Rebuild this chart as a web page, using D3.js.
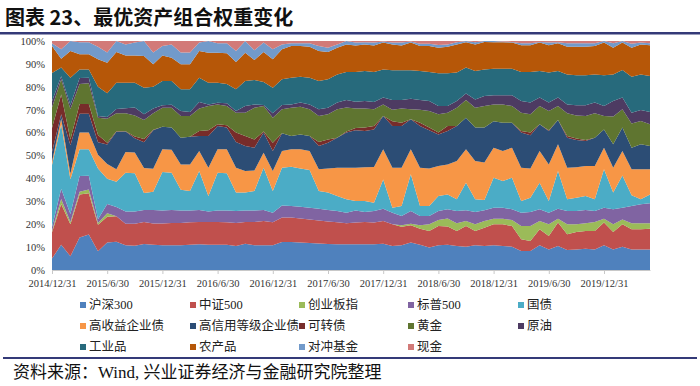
<!DOCTYPE html>
<html>
<head>
<meta charset="utf-8">
<script src="https://d3js.org/d3.v7.min.js"></script>
<style>
    body { margin: 0; background: #fff; }
    svg { display: block; }
</style>
</head>
<body>
<svg id="chart" width="700" height="386"></svg>
<script>

// month-end dates, 2014/12/31 .. 2020/5/31 (66 points)
const months = d3.timeMonth.range(new Date(2014, 11, 1), new Date(2020, 5, 1))
const fmt = d => d3.timeFormat("%Y/%-m/%-d")(d3.timeDay.offset(d3.timeMonth.offset(d, 1), -1))
const dates = months.map(fmt)

const keys = ["沪深300", "中证500", "创业板指", "标普500", "国债", "高收益企业债", "高信用等级企业债",
              "可转债", "黄金", "原油", "工业品", "农产品", "对冲基金", "现金"]
const colors = ["#4F81BD", "#C0504D", "#9BBB59", "#8064A2", "#4BACC6", "#F79646", "#2C4D75",
                "#772C2A", "#5F7530", "#4D3B62", "#276A7C", "#B65708", "#729ACA", "#D27A78"]

// weights (%)
const hs300 = [5, 11, 6, 14.2, 15.5, 8.2, 12, 12.3, 10.8, 10.6, 11.3, 11, 10.8, 10.8, 10.8, 11, 11.2, 11, 11, 11,
    10.5, 11.5, 10.8, 10.8, 10.8, 12.2, 12.2, 12, 11.8, 11.6, 11.4, 11.2, 11.2, 11.2, 11.2, 11.2, 11.5, 10.5, 10.8, 12,
    11, 9.8, 10.8, 11, 10.5, 10.2, 10.8, 10.5, 10.8, 10.5, 10.2, 8.3, 8.3, 10.8, 9, 10.5, 8.7, 9, 9.3, 9,
    10.8, 9, 10.2, 9, 9, 9]
const zz500 = [11.5, 17.8, 14, 18.8, 18, 11.6, 11.2, 11.2, 9.4, 9.6, 9.7, 9.3, 9.5, 9.7, 9.7, 9.8, 9.8, 10, 10, 9.8,
    10, 9.5, 10.2, 10.6, 10, 10.7, 10.7, 10.5, 10.2, 10, 9.8, 9.6, 9.2, 9.5, 9.8, 9.5, 9.9, 9.5, 8.1, 7.5,
    7, 7.2, 8.4, 8, 6.5, 9, 6.2, 8, 9.2, 9.5, 9, 5.1, 4.4, 7, 5.8, 10.2, 6.9, 7.6, 7.7, 8,
    9.9, 7.6, 9.8, 8.8, 8.8, 9]
const cyb = [0.5, 2.2, 1, 1.2, 1.7, 0.7, 1.6, 0, 0, 0, 0, 0, 0, 0, 0, 0, 0, 0, 0, 0,
    0, 0, 0, 0, 0, 0, 0, 0, 0, 0, 0, 0, 0, 0, 0, 0, 0, 0, 0.6, 0.7,
    1.5, 3, 2.6, 3.5, 3.4, 2.2, 3, 2.9, 2.4, 2.4, 2.6, 5.8, 6.5, 3.6, 5.2, 1.7, 4.4, 3.4, 3.4, 4,
    1.7, 3.4, 2, 2.6, 2.6, 2.4]
const sp500 = [1.8, 4.5, 3.5, 6.8, 6, 1.7, 4, 4, 5.4, 5.4, 5.2, 5.9, 5.7, 5.7, 5.5, 5.2, 5.2, 4.5, 5, 5.2,
    5.3, 5, 5, 4.8, 4.2, 5.3, 5.1, 5.1, 5.2, 5.2, 5, 5, 4.6, 5.3, 4.3, 5.1, 5.4, 5, 4.1, 5.6,
    4.1, 3.6, 4, 4, 5.4, 4.7, 5.3, 4.7, 4.8, 4.8, 4.7, 5.8, 6.1, 5.1, 5, 4.4, 5.8, 5.8, 5.8, 4.8,
    4.8, 6.5, 5.2, 7.5, 8.3, 8.7]
const gz = [27, 28, 15.1, 11.7, 11.5, 22.1, 11, 11, 16.9, 16.7, 7.4, 8, 16.8, 16.3, 9, 8.5, 17, 6.8, 16.5, 16.2,
    8, 7.8, 8.5, 18.5, 9.5, 16.5, 17.1, 16.7, 16.5, 7.7, 7.6, 6.5, 5.9, 4.1, 4.8, 3.6, 12.7, 2.2, 4.3, 16,
    4.3, 4.3, 6.5, 6.5, 5.1, 12, 5.6, 4.5, 13.1, 11.7, 13.8, 5.1, 6.3, 11.6, 5.1, 16.4, 5.1, 5.8, 6.1, 5.1,
    16.8, 7.3, 14.1, 4.7, 2.2, 3.9]
const gsy = [1.5, 2.7, 2.4, 7.3, 7.3, 6, 6.5, 5.5, 9, 9, 10.9, 10, 9.9, 10, 11.1, 11.6, 8.8, 12.4, 10.2, 10.5,
    10.9, 9.4, 9, 6.5, 8.7, 7.3, 7.6, 8.4, 8.3, 9.5, 10.5, 12.4, 13.8, 14.6, 14.8, 15.6, 13.2, 17.5, 16.8, 10.9,
    16.8, 16.4, 13.1, 13.1, 16.7, 14.6, 16.7, 16.3, 13.1, 13.1, 13.1, 14.6, 12.7, 13.9, 16, 11.7, 13.8, 13.3, 13.1, 14.5,
    9.4, 10.9, 10.7, 11.4, 13.1, 11]
const gxy = [4.2, 1.8, 12.5, 8.2, 8.2, 5.5, 8.5, 16.4, 9, 6.2, 11.3, 16.8, 9.9, 9.7, 11.7, 12.1, 6.5, 13.8, 10.2, 9.5,
    11.2, 10.9, 9.9, 8.8, 8.8, 7.7, 5.8, 6.5, 6.5, 10.1, 11.3, 13.1, 15.3, 16.3, 15.8, 16.4, 14.5, 18.2, 18.2, 13.1,
    18.2, 16.7, 13.8, 14.6, 15.3, 13.8, 14.6, 15.3, 11.6, 12.3, 10.9, 15.3, 14.5, 11.6, 14.6, 10.6, 13.1, 11.9, 10.9, 12.4,
    8, 10.2, 10.2, 9.4, 10.9, 10.1]
const kzz = [10.5, 8.6, 2.5, 4.3, 4.3, 3.2, 0.8, 0.2, 0.1, 0.8, 1.4, 0.2, 0, 0, 0, 0, 2.2, 2.5, 0.7, 1,
    4.1, 4.4, 3.6, 0.5, 3.6, 0, 0, 0, 0, 1.8, 1.4, 0, 0.5, 1, 1.5, 1.5, 0, 2.1, 1.4, 0,
    1.4, 1.2, 0.8, 2.2, 0, 0, 0, 0, 0, 0, 0, 0.7, 1.2, 0, 0.3, 0, 0.7, 0.6, 0.5, 0,
    0, 0, 0, 0, 0, 0]
const hj = [9, 6.7, 13.3, 8.7, 9, 7.5, 10.4, 7.9, 7.9, 9.2, 8.3, 7.3, 8.3, 8.7, 9.4, 9, 9.8, 10.6, 8.7, 8.4,
    8.7, 10.2, 13.9, 11.1, 10.9, 10.5, 12.4, 12.1, 11.7, 11.3, 11, 12.4, 10.5, 8.5, 8.3, 7.3, 5.1, 5, 6.2, 4.4,
    5.7, 7.2, 8, 5.8, 8, 7.7, 8.7, 9.4, 7.3, 8, 7.3, 8, 8, 8, 8.4, 6.1, 9.9, 10.1, 10.4, 10.6,
    5.8, 12.1, 8, 10.6, 10.2, 9.5]
const yy = [2.7, 1.3, 1.7, 2.6, 2.5, 0.7, 0.8, 1.8, 2.1, 3.5, 2.5, 2, 1, 1.3, 2.2, 1.8, 2.9, 0.7, 0.7, 1.2,
    0.7, 2.9, 1.4, 0.4, 1.9, 1.8, 1.4, 1.8, 2.1, 3, 2.9, 2.9, 3.2, 3, 3.3, 3.2, 3, 4.2, 3.7, 4.6,
    4.2, 4.4, 3.6, 2.9, 2.9, 2.9, 3.6, 4.4, 4, 4, 4.7, 5.1, 5.1, 3.7, 3.7, 3.7, 3.9, 4.4, 4.7, 4.7,
    4.4, 6.8, 5.1, 4.7, 4.8, 5.4]
const gyp = [12.3, 3.8, 12, 3.8, 3.6, 12.8, 10.4, 11.5, 11.2, 10.8, 11.6, 9.5, 10.6, 10.3, 9.5, 9.9, 10.6, 9.5, 8.8, 8.4,
    9.5, 10.9, 10.7, 10.1, 11.2, 11.3, 11.7, 11.3, 11.7, 12.3, 12.4, 12.3, 12.3, 13, 13.1, 13.1, 12.3, 13, 13, 12.4,
    12.7, 12.7, 14.3, 14.3, 12.4, 11.3, 12.4, 11.6, 11.6, 11.6, 11.6, 12.7, 13.4, 11.6, 13.1, 11.6, 13.1, 13.1, 13.1, 12.3,
    13.4, 11.6, 12, 15.7, 15.5, 15.7]
const ncp = [11.8, 3.9, 11.6, 6.6, 6.6, 12, 13.3, 13.4, 11.9, 11.9, 13.8, 9.8, 11.2, 10.2, 10.9, 10.9, 11.6, 13.1, 13.1, 13.4,
    11.9, 12.4, 8.7, 13.1, 12.4, 13.1, 13.8, 13.4, 13.5, 13.1, 11.9, 11.6, 12, 11.5, 11.6, 11.5, 11.7, 11.3, 10.8, 12.1,
    10.9, 11.3, 11.2, 11.6, 12.3, 11, 11.6, 12, 11.6, 11.6, 11.4, 11.6, 11.6, 12.4, 11.9, 12.1, 12.1, 12.5, 12.5, 12.4,
    14.3, 11.7, 12, 12.7, 13.1, 13.4]
const dcjj = [1.2, 4.1, 4.4, 5.3, 5.3, 5.5, 4.5, 4.8, 4.8, 5.6, 6.6, 5.2, 4.1, 5.8, 5.2, 5.2, 3.7, 5.1, 4.1, 4.4,
    4.8, 5.1, 4.3, 4.1, 4.4, 2.1, 1.2, 1.2, 1.5, 2.2, 1.9, 1.5, 1.5, 1.3, 1, 1.3, 0.5, 0.8, 1.3, 0.5,
    1, 1, 1.2, 1, 1, 0.6, 1, 0.4, 0.5, 0.3, 0.3, 0.9, 0.9, 0.3, 1.2, 0.5, 1.5, 1.5, 1.5, 1.2,
    0.7, 1.9, 0.7, 1.7, 0.8, 0.9]
const xj = [1, 3.6, 0, 0.5, 0.5, 2.5, 5, 0, 1.5, 0.7, 0, 5, 2.2, 1.5, 5, 5, 0.7, 0, 1, 1,
    4.4, 0, 4, 0.7, 3.6, 1.5, 1, 1, 1, 2.2, 2.9, 1.5, 0, 0.7, 0.5, 0.7, 0.2, 0.7, 0.7, 0.2,
    1.2, 1.2, 1.7, 1.5, 0.5, 0, 0.5, 0, 0, 0.2, 0.4, 1, 1, 0.4, 0.7, 0.5, 1, 1, 1, 1,
    0, 1, 0, 1.2, 0.7, 1]

const tickLabels = ["2014/12/31", "2015/6/30", "2015/12/31", "2016/6/30", "2016/12/31", "2017/6/30",
                    "2017/12/31", "2018/6/30", "2018/12/31", "2019/6/30", "2019/12/31"]

const series = [hs300, zz500, cyb, sp500, gz, gsy, gxy, kzz, hj, yy, gyp, ncp, dcjj, xj]

let data = dates.map((d, i) => {
    let row = {date: d}
    keys.forEach((k, j) => row[k] = series[j][i])
    return row
})

let svg = d3.select("#chart")
let serif = "'Liberation Serif', 'Noto Sans CJK SC', serif"

// title + rules
svg.append("text").attr("x", 5).attr("y", 25)
    .style("font-family", "'Noto Sans CJK SC', sans-serif").style("font-weight", "700")
    .style("font-size", "20px").attr("fill", "#111")
    .text("图表 23、最优资产组合权重变化")
svg.append("rect").attr("x", 0).attr("y", 32).attr("width", 700).attr("height", 2.5).attr("fill", "#343a78")
svg.append("rect").attr("x", 3).attr("y", 357).attr("width", 694).attr("height", 2).attr("fill", "#343a78")
svg.append("text").attr("x", 13).attr("y", 378)
    .style("font-family", serif).style("font-size", "17px").attr("fill", "#111")
    .text("资料来源：Wind, 兴业证券经济与金融研究院整理")

let x = d3.scalePoint().domain(dates).range([52, 650])
let y = d3.scaleLinear().domain([0, 1]).range([270, 41])
let z = d3.scaleOrdinal().domain(keys).range(colors)

let stack = d3.stack().keys(keys).offset(d3.stackOffsetExpand)(data)

let area = d3.area()
    .x(d => x(d.data.date))
    .y0(d => y(d[0]))
    .y1(d => y(d[1]))

svg.append("g").selectAll("path")
    .data(stack)
    .enter().append("path")
    .attr("fill", d => z(d.key))
    .attr("d", area)

// axes
let xAxis = svg.append("g")
    .attr("transform", "translate(0,270)")
    .call(d3.axisBottom(x).tickValues(tickLabels).tickSize(4).tickPadding(6).tickSizeOuter(0))
xAxis.select(".domain").attr("stroke", "#c8c8c8")
xAxis.selectAll(".tick line").attr("stroke", "#c8c8c8")
xAxis.selectAll("text").style("font-family", serif).style("font-size", "10.5px").attr("fill", "#333")

let yAxis = svg.append("g")
    .attr("transform", "translate(52,0)")
    .call(d3.axisLeft(y).ticks(10, ".0%").tickSize(0).tickPadding(7))
yAxis.select(".domain").remove()
yAxis.selectAll("text").style("font-family", serif).style("font-size", "10.5px").attr("fill", "#333")

// legend, 5 columns x 3 rows
let colX = [80, 190, 299, 408, 518]
let rowY = [305, 326, 347]
let legend = svg.append("g").selectAll("g")
    .data(keys)
    .enter().append("g")
    .attr("transform", (d, i) => `translate(${colX[i % 5]},${rowY[Math.floor(i / 5)]})`)
legend.append("rect").attr("x", 0).attr("y", -3).attr("width", 6).attr("height", 6).attr("fill", d => z(d))
legend.append("text").attr("x", 9).attr("y", 0).attr("dy", "0.35em")
    .style("font-family", serif).style("font-size", "12.5px").attr("fill", "#222")
    .text(d => d)

</script>
</body>
</html>
